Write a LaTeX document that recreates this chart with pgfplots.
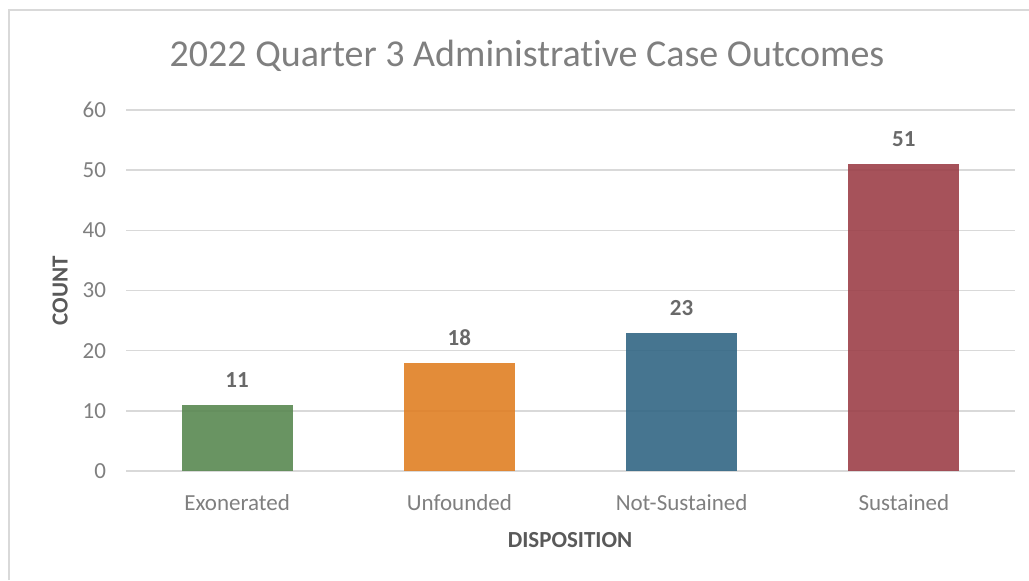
\documentclass[border=0pt]{standalone}
\usepackage{pgfplots}
\pgfplotsset{compat=1.18}
\usepackage{fontspec}
\setmainfont[Ligatures=NoCommon]{Carlito}
\definecolor{txt}{HTML}{7F7F7F}
\definecolor{lbl}{HTML}{595959}
\definecolor{gridc}{HTML}{D9D9D9}
\definecolor{cgreen}{RGB}{89,136,81}
\definecolor{corange}{RGB}{224,127,36}
\definecolor{cblue}{RGB}{50,102,132}
\definecolor{cred}{RGB}{156,63,72}
\begin{document}
\begin{tikzpicture}
\useasboundingbox (0,0) rectangle (514.5pt,290pt);
\draw[gridc, line width=1pt] (4.5pt,0pt) -- (4.5pt,285pt) -- (514.5pt,285pt);
\begin{axis}[
  at={(63pt,54.5pt)}, anchor=south west,
  scale only axis, width=444.5pt, height=180.5pt,
  xmin=-0.5, xmax=3.5, ymin=0, ymax=60,
  ytick={0,10,...,60},
  xtick={0,1,2,3},
  xticklabels={Exonerated,Unfounded,Not-Sustained,Sustained},
  axis line style={draw=none},
  major tick length=0pt,
  ymajorgrids, grid style={draw=gridc, line width=0.75pt},
  ticklabel style={font=\fontsize{11.5}{13}\selectfont, text=txt},
  /pgf/number format/assume math mode=true,
  yticklabel style={xshift=-6.5pt},
  xticklabel style={yshift=-8pt},
  title={2022 Quarter 3 Administrative Case Outcomes},
  title style={at={(axis description cs:0.451,1.116)}, anchor=center, font=\fontsize{19}{22}\selectfont, text=txt},
  ylabel={\textbf{COUNT}},
  ylabel style={at={(axis description cs:-0.074,0.5)}, anchor=center, font=\fontsize{11.5}{13}\selectfont, text=lbl},
  xlabel={\textbf{DISPOSITION}},
  xlabel style={at={(axis description cs:0.4995,-0.191)}, anchor=center, font=\fontsize{11.5}{13}\selectfont, text=lbl},
  ybar, bar width=0.5, bar shift=0pt,
  nodes near coords,
  every node near coord/.append style={font=\fontsize{11.5}{13}\selectfont\bfseries, text=lbl, anchor=south, inner sep=0pt, yshift=8.5pt},
]
\addplot[fill=cgreen, fill opacity=0.9, draw=none] coordinates {(0,11)};
\addplot[fill=corange, fill opacity=0.9, draw=none] coordinates {(1,18)};
\addplot[fill=cblue, fill opacity=0.9, draw=none] coordinates {(2,23)};
\addplot[fill=cred, fill opacity=0.9, draw=none] coordinates {(3,51)};
\end{axis}
\end{tikzpicture}
\end{document}
